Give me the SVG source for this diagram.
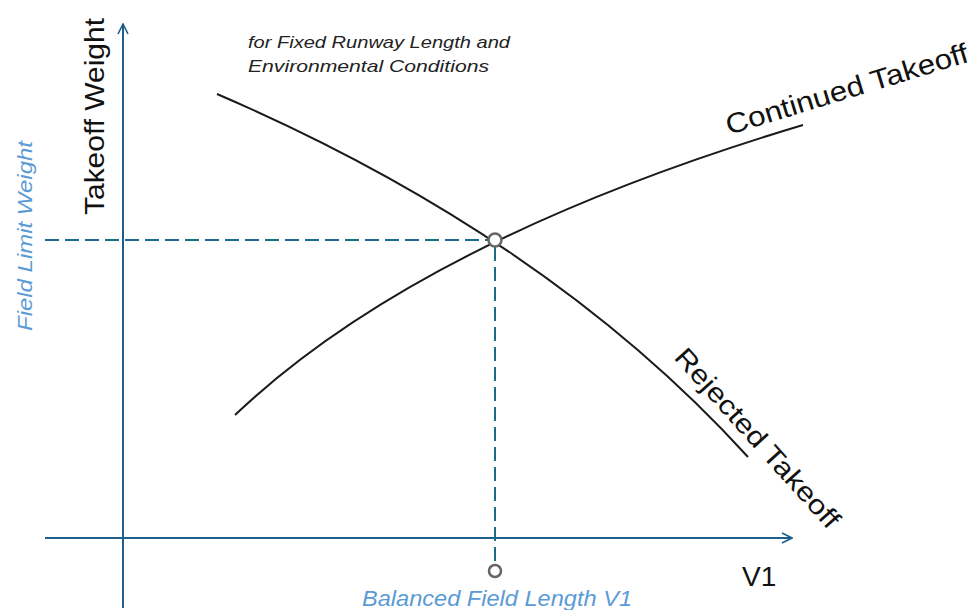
<svg xmlns="http://www.w3.org/2000/svg" width="973" height="610" viewBox="0 0 973 610">
<defs>
<marker id="arr" viewBox="0 0 12 12" refX="11" refY="6" markerWidth="12" markerHeight="12" markerUnits="userSpaceOnUse" orient="auto">
<path d="M1,1 L11,6 L1,11" fill="none" stroke="#1f5f8b" stroke-width="1.6"/>
</marker>
</defs>
<style>
.axis{stroke:#1f5f8b;stroke-width:2;fill:none}
.dash{stroke:#1c6a8c;stroke-width:2;fill:none;stroke-dasharray:14 6}
.curve{stroke:#1a1a1a;stroke-width:2;fill:none}
.pt{fill:#ffffff;stroke:#666666;stroke-width:2.5}
.lbl{font-family:"Liberation Sans",Arial,sans-serif;fill:#111111}
.blue{font-family:"Liberation Sans",Arial,sans-serif;font-style:italic;fill:#5b9bd5}
.note{font-family:"Liberation Sans",Arial,sans-serif;font-style:italic;fill:#222222;font-size:17px}
</style>
<rect width="973" height="610" fill="#ffffff"/>
<g id="connectors">
<line class="axis" x1="123" y1="608" x2="123" y2="24" marker-end="url(#arr)"/>
<line class="axis" x1="45" y1="538" x2="792" y2="538" marker-end="url(#arr)"/>
<line class="dash" x1="45" y1="240" x2="489" y2="240"/>
<line class="dash" x1="495" y1="247" x2="495" y2="564"/>
<path class="curve" d="M217,94 Q547,236 748,457"/>
<path class="curve" d="M235,415 Q419,240 803,125"/>
</g>
<g id="intersection"><circle class="pt" cx="495" cy="240" r="6.5"/></g>
<g id="v1-point"><circle class="pt" cx="495" cy="571" r="6"/></g>
<g id="y-axis-label"><text class="lbl" font-size="28" textLength="197" lengthAdjust="spacingAndGlyphs" transform="translate(104,215) rotate(-90)">Takeoff Weight</text></g>
<g id="field-limit-label"><text class="blue" font-size="21" textLength="190" lengthAdjust="spacingAndGlyphs" transform="translate(32,331) rotate(-90)">Field Limit Weight</text></g>
<g id="note"><text class="note" x="248" y="48" textLength="262" lengthAdjust="spacingAndGlyphs">for Fixed Runway Length and</text><text class="note" x="248" y="72" textLength="241" lengthAdjust="spacingAndGlyphs">Environmental Conditions</text></g>
<g id="continued-label"><text class="lbl" font-size="28" textLength="252" lengthAdjust="spacingAndGlyphs" transform="translate(729,135) rotate(-17)">Continued Takeoff</text></g>
<g id="rejected-label"><text class="lbl" font-size="27" textLength="232" lengthAdjust="spacingAndGlyphs" transform="translate(673,358) rotate(48)">Rejected Takeoff</text></g>
<g id="x-axis-label"><text class="lbl" font-size="28" x="742" y="586">V1</text></g>
<g id="bfl-label"><text class="blue" font-size="22" x="362" y="606" textLength="270" lengthAdjust="spacingAndGlyphs">Balanced Field Length V1</text></g>
</svg>
